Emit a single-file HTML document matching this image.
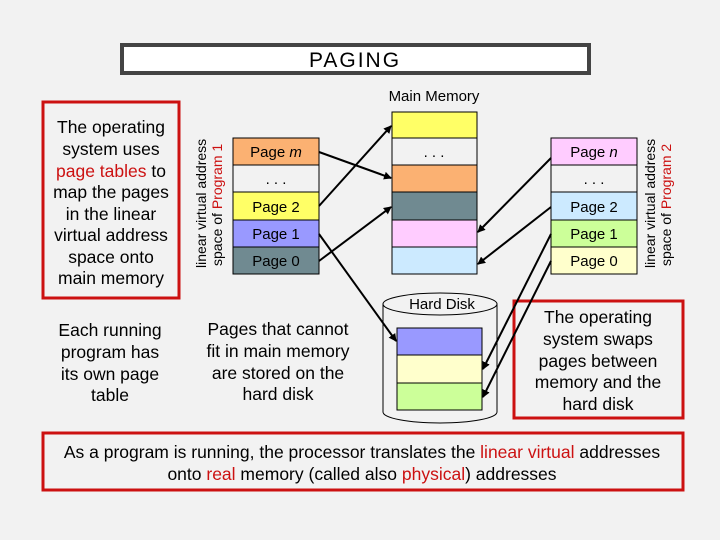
<!DOCTYPE html>
<html><head><meta charset="utf-8"><style>
body{margin:0;background:#f2f2f2}
svg{display:block;font-family:"Liberation Sans",sans-serif}
</style></head><body>
<svg width="720" height="540" viewBox="0 0 720 540" xmlns="http://www.w3.org/2000/svg">
<defs><marker id="a" markerWidth="8" markerHeight="8" refX="7" refY="4" orient="auto" markerUnits="userSpaceOnUse"><path d="M0,0 L8,4 L0,8 z" fill="#000"/></marker></defs>
<rect width="720" height="540" fill="#f2f2f2"/>
<rect x="122" y="45" width="467" height="28" fill="#fff" stroke="#444" stroke-width="4"/>
<text x="355" y="67" font-size="21" text-anchor="middle" letter-spacing="2">PAGING</text>
<text x="434" y="101" font-size="15" text-anchor="middle">Main Memory</text>
<rect x="43" y="102" width="136" height="196" fill="#f2f2f2" stroke="#cc1111" stroke-width="3"/>
<g font-size="17.5" text-anchor="middle">
<text x="111" y="133">The operating</text>
<text x="111" y="155">system uses</text>
<text x="111" y="177"><tspan fill="#cc1111">page tables</tspan> to</text>
<text x="111" y="198">map the pages</text>
<text x="111" y="220">in the linear</text>
<text x="111" y="241">virtual address</text>
<text x="111" y="263">space onto</text>
<text x="111" y="284">main memory</text>
<text x="110" y="336">Each running</text>
<text x="110" y="358">program has</text>
<text x="110" y="380">its own page</text>
<text x="110" y="401">table</text>
<text x="278" y="335">Pages that cannot</text>
<text x="278" y="357">fit in main memory</text>
<text x="278" y="379">are stored on the</text>
<text x="278" y="400">hard disk</text>
</g>
<g font-size="14">
<text transform="translate(206,268) rotate(-90)">linear virtual address</text>
<text transform="translate(222,266) rotate(-90)">space of <tspan fill="#cc1111">Program 1</tspan></text>
<text transform="translate(655,268) rotate(-90)">linear virtual address</text>
<text transform="translate(671,266) rotate(-90)">space of <tspan fill="#cc1111">Program 2</tspan></text>
</g>
<g stroke="#000" stroke-width="1">
<rect x="233" y="138" width="86" height="27" fill="#fbb172"/>
<rect x="233" y="165" width="86" height="27" fill="#f2f2f2"/>
<rect x="233" y="192" width="86" height="28" fill="#ffff66"/>
<rect x="233" y="220" width="86" height="27" fill="#9999ff"/>
<rect x="233" y="247" width="86" height="27" fill="#708a91"/>
<rect x="392" y="112" width="85" height="26" fill="#ffff66"/>
<rect x="392" y="138" width="85" height="27" fill="#f2f2f2"/>
<rect x="392" y="165" width="85" height="27" fill="#fbb172"/>
<rect x="392" y="192" width="85" height="28" fill="#708a91"/>
<rect x="392" y="220" width="85" height="27" fill="#ffccff"/>
<rect x="392" y="247" width="85" height="27" fill="#cceaff"/>
<rect x="551" y="138" width="86" height="27" fill="#ffccff"/>
<rect x="551" y="165" width="86" height="27" fill="#f2f2f2"/>
<rect x="551" y="192" width="86" height="28" fill="#cceaff"/>
<rect x="551" y="220" width="86" height="27" fill="#ccff99"/>
<rect x="551" y="247" width="86" height="27" fill="#ffffcc"/>
<path d="M383,304 L383,412 A57,11 0 0 0 497,412 L497,304" fill="#f2f2f2"/>
<ellipse cx="440" cy="304" rx="57" ry="11" fill="#f2f2f2"/>
<rect x="397" y="328" width="85" height="27" fill="#9999ff"/>
<rect x="397" y="355" width="85" height="28" fill="#ffffcc"/>
<rect x="397" y="383" width="85" height="27" fill="#ccff99"/>
</g>
<g font-size="15" text-anchor="middle">
<text x="276" y="157">Page <tspan font-style="italic">m</tspan></text>
<text x="276" y="184">. . .</text>
<text x="276" y="212">Page 2</text>
<text x="276" y="239">Page 1</text>
<text x="276" y="266">Page 0</text>
<text x="434" y="157">. . .</text>
<text x="594" y="157">Page <tspan font-style="italic">n</tspan></text>
<text x="594" y="184">. . .</text>
<text x="594" y="212">Page 2</text>
<text x="594" y="239">Page 1</text>
<text x="594" y="266">Page 0</text>
<text x="442" y="309">Hard Disk</text>
</g>
<rect x="514" y="301" width="169" height="117" fill="#f2f2f2" stroke="#cc1111" stroke-width="3"/>
<g font-size="17.5" text-anchor="middle">
<text x="598" y="323">The operating</text>
<text x="598" y="345">system swaps</text>
<text x="598" y="367">pages between</text>
<text x="598" y="388">memory and the</text>
<text x="598" y="410">hard disk</text>
</g>
<g stroke="#000" stroke-width="2" marker-end="url(#a)">
<line x1="319" y1="152" x2="391" y2="178"/>
<line x1="319" y1="206" x2="391" y2="126"/>
<line x1="319" y1="261" x2="391" y2="207"/>
<line x1="319" y1="234" x2="396" y2="341"/>
<line x1="551" y1="158" x2="478" y2="232"/>
<line x1="551" y1="207" x2="478" y2="264"/>
<line x1="551" y1="234" x2="483" y2="369"/>
<line x1="551" y1="261" x2="483" y2="397"/>
</g>
<rect x="43" y="433" width="640" height="57" fill="#f2f2f2" stroke="#cc1111" stroke-width="3"/>
<g font-size="17.5" text-anchor="middle">
<text x="362" y="458">As a program is running, the processor translates the <tspan fill="#cc1111">linear virtual</tspan> addresses</text>
<text x="362" y="480">onto <tspan fill="#cc1111">real</tspan> memory (called also <tspan fill="#cc1111">physical</tspan>) addresses</text>
</g>
</svg>
</body></html>
